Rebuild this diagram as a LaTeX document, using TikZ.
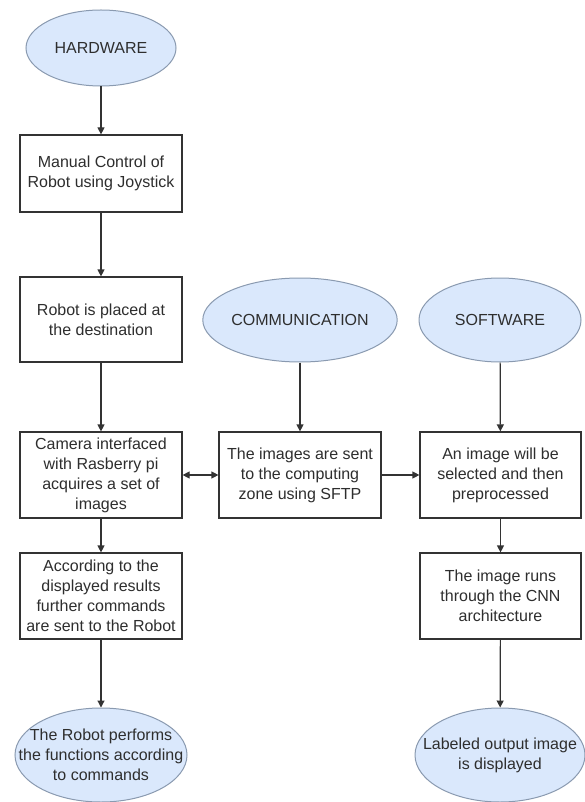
\documentclass[tikz,border=0pt]{standalone}
\usepackage{fontspec}
\setmainfont{Liberation Sans}
\usetikzlibrary{shapes.geometric,arrows.meta}
\definecolor{ellfill}{HTML}{DAE8FC}
\definecolor{elldraw}{HTML}{8A9AB0}
\definecolor{linec}{HTML}{333333}
\definecolor{txt}{HTML}{2E2E2E}
\tikzset{
  boxnode/.style={draw=linec, line width=1.2pt, rectangle, minimum width=162pt, inner sep=0pt, align=center, text=txt, font=\fontsize{16}{20}\selectfont},
  ellnode/.style={draw=elldraw, fill=ellfill, line width=1pt, ellipse, inner sep=0pt, align=center, text=txt, font=\fontsize{16}{20}\selectfont},
  elltext/.style={inner sep=0pt, align=center, text=txt, font=\fontsize{16}{20}\selectfont},
  conn/.style={draw=linec, line width=1.2pt, -{Triangle[length=7pt,width=7pt]}},
  dconn/.style={draw=linec, line width=1.2pt, {Triangle[length=7pt,width=7pt]}-{Triangle[length=7pt,width=7pt]}}
}
\begin{document}
\begin{tikzpicture}[x=1pt,y=-1pt]
\useasboundingbox[fill=white] (0,0) rectangle (585,802);
\node[ellnode, minimum width=150pt, minimum height=76pt] (hw) at (101,48) {HARDWARE};
\node[boxnode, minimum height=77pt] (b1) at (101,173.5) {Manual Control of\\Robot using Joystick};
\node[boxnode, minimum height=85pt] (b2) at (101,319.5) {Robot is placed at\\the destination};
\node[ellnode, minimum width=148pt, minimum height=84pt] (comm) at (300,320) {COMMUNICATION};
\node[ellnode, minimum width=162pt, minimum height=84pt] (sw) at (500,320) {SOFTWARE};
\node[boxnode, minimum height=86pt] (cam) at (101,475) {Camera interfaced\\with Rasberry pi\\acquires a set of\\images};
\node[boxnode, minimum height=86pt] (sent) at (300,475) {The images are sent\\to the computing\\zone using SFTP};
\node[boxnode, minimum height=86pt, minimum width=161pt] (sel) at (500.5,475) {An image will be\\selected and then\\preprocessed};
\node[boxnode, minimum height=86pt] (acc) at (101,596) {According to the\\displayed results\\further commands\\are sent to the Robot};
\node[boxnode, minimum height=86pt, minimum width=161pt] (cnn) at (500.5,596) {The image runs\\through the CNN\\architecture};
\node[ellnode, minimum width=172pt, minimum height=94pt, label={[elltext]center:{The Robot performs\\the functions according\\to commands}}] (perf) at (101,755) {};
\node[ellnode, minimum width=170pt, minimum height=94pt, label={[elltext]center:{Labeled output image\\is displayed}}] (lab) at (500,755) {};
\draw[conn] (hw) -- (b1);
\draw[conn] (b1) -- (b2);
\draw[conn] (b2) -- (cam);
\draw[conn] (comm) -- (sent);
\draw[conn] (sw) -- (sel);
\draw[dconn] (cam) -- (sent);
\draw[conn] (sent) -- (sel);
\draw[conn] (cam) -- (acc);
\draw[conn] (sel) -- (cnn);
\draw[conn] (acc) -- (perf);
\draw[conn] (cnn) -- (lab);
\end{tikzpicture}
\end{document}
